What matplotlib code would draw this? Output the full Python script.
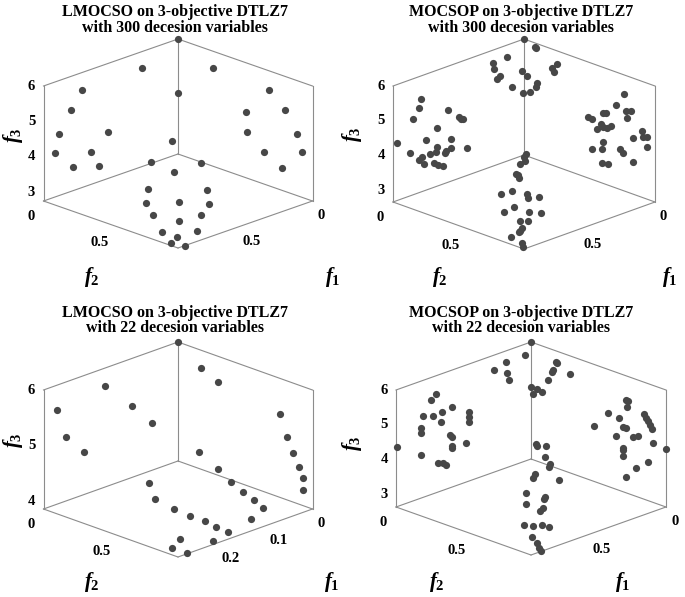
import numpy as np
import matplotlib
matplotlib.use("Agg")
import matplotlib.pyplot as plt
from mpl_toolkits.mplot3d import proj3d

plt.rcParams['font.family'] = 'Liberation Serif'
plt.rcParams['font.weight'] = 'bold'
plt.rcParams['mathtext.fontset'] = 'custom'
plt.rcParams['mathtext.rm'] = 'Liberation Serif:bold'
plt.rcParams['mathtext.it'] = 'Liberation Serif:italic:bold'
plt.rcParams['mathtext.bf'] = 'Liberation Serif:bold'

# ---- LMOCSO, 300 decision variables (top left) ----
lm300_f1 = [0.0, 0.245, 0.008, 0.234,
            0.641, 0.721, 0.814, 0.874, 0.873, 0.797, 0.817, 0.702,
            0.022, 0.005, 0.190, 0.238, 0.016, 0.044, 0.217, 0.180,
            0.662, 0.775, 0.611, 0.718, 0.842, 0.644, 0.877, 0.762, 0.666,
            0.877, 0.715, 0.801, 0.882, 0.762, 0.842, 0.874, 0.832]
lm300_f2 = [0.0, 0.006, 0.244, 0.236,
            0.0, 0.005, 0.017, 0.053, 0.172, 0.212, 0.286, 0.236,
            0.633, 0.721, 0.643, 0.702, 0.815, 0.872, 0.795, 0.874,
            0.624, 0.594, 0.765, 0.692, 0.639, 0.840, 0.661, 0.769, 0.876,
            0.708, 0.869, 0.808, 0.773, 0.887, 0.833, 0.825, 0.879]
lm300_f3 = [6.0, 5.56, 5.56, 5.18,
            5.52, 5.07, 4.54, 4.14, 3.94, 4.29, 4.05, 4.77,
            5.53, 5.07, 5.18, 4.77, 4.54, 4.17, 4.30, 3.92,
            5.02, 4.56, 4.52, 4.34, 3.94, 3.93, 3.63, 3.67, 3.61,
            3.37, 3.37, 3.24, 2.99, 3.02, 2.88, 2.74, 2.68]

# ---- MOCSOP, 300 decision variables (top right) ----
mo300_f1 = [0.0, 0.0, 0.0, 0.134, 0.206, 0.227, 0.241, 0.262, 0.148, 0.150,
            0.247, 0.237, 0.213, 0.150, 0.168, 0.036, 0.0, 0.042,
            0.848, 0.676, 0.704, 0.748, 0.649, 0.722, 0.646, 0.648, 0.643,
            0.779, 0.724, 0.848, 0.834, 0.849, 0.850, 0.809, 0.775, 0.790,
            0.767, 0.775, 0.826, 0.823, 0.815, 0.749, 0.716,
            0.0, 0.065, 0.143, 0.132, 0.037, 0.016, 0.051, 0.223, 0.212,
            0.186, 0.182, 0.171, 0.147, 0.216, 0.224, 0.083, 0.022, 0.031,
            0.016, 0.041, 0.296, 0.252, 0.170, 0.167, 0.289, 0.267, 0.145,
            0.659, 0.669, 0.699, 0.676, 0.733, 0.728, 0.729, 0.823, 0.778,
            0.735, 0.740, 0.703, 0.847, 0.806, 0.766, 0.729, 0.814, 0.787,
            0.823, 0.834, 0.841, 0.878, 0.853, 0.858]
mo300_f2 = [0.0, 0.069, 0.079, 0.025, 0.005, 0.030, 0.083, 0.085, 0.133, 0.171,
            0.167, 0.232, 0.251, 0.234, 0.246, 0.218, 0.216, 0.241,
            0.012, 0.0, 0.014, 0.018, 0.152, 0.149, 0.221, 0.234, 0.244,
            0.135, 0.245, 0.099, 0.162, 0.159, 0.195, 0.192, 0.202, 0.212,
            0.255, 0.258, 0.237, 0.257, 0.281, 0.270, 0.340,
            0.656, 0.669, 0.664, 0.669, 0.707, 0.717, 0.730, 0.645, 0.657,
            0.690, 0.703, 0.714, 0.716, 0.697, 0.744, 0.796, 0.795, 0.814,
            0.821, 0.850, 0.741, 0.762, 0.800, 0.815, 0.799, 0.816, 0.863,
            0.670, 0.671, 0.673, 0.682, 0.678, 0.687, 0.697, 0.670, 0.701,
            0.757, 0.768, 0.801, 0.718, 0.741, 0.801, 0.840, 0.788, 0.815,
            0.807, 0.808, 0.808, 0.791, 0.838, 0.849]
mo300_f3 = [6.0, 5.88, 5.86, 5.72, 5.63, 5.55, 5.43, 5.39, 5.51, 5.44,
            5.28, 5.18, 5.19, 5.33, 5.28, 5.56, 5.63, 5.50,
            4.36, 5.33, 5.15, 4.90, 5.21, 4.81, 5.11, 5.07, 5.08,
            4.53, 4.63, 4.21, 4.17, 4.10, 4.03, 4.26, 4.43, 4.33,
            4.38, 4.33, 4.09, 4.07, 4.07, 4.45, 4.51,
            5.44, 5.25, 5.15, 5.14, 5.09, 5.08, 4.94, 5.11, 5.06,
            4.93, 4.86, 4.82, 4.85, 4.83, 4.56, 4.52, 4.63, 4.51,
            4.50, 4.30, 4.45, 4.42, 4.35, 4.27, 4.15, 4.09, 4.05,
            4.78, 4.72, 4.55, 4.62, 4.33, 4.31, 4.25, 3.88, 3.96,
            3.88, 3.80, 3.82, 3.49, 3.58, 3.47, 3.46, 3.28, 3.28,
            3.13, 3.06, 3.02, 2.91, 2.79, 2.70]

# ---- LMOCSO, 22 decision variables (bottom left) ----
lm22_f1 = [0.0, 0.004, 0.0, 0.156, 0.253, 0.148, 0.143, 0.277, 0.273,
           0.001, 0.005, 0.006, 0.007, 0.007, 0.017,
           0.164, 0.144, 0.132, 0.119, 0.106, 0.097, 0.125,
           0.271, 0.272, 0.247, 0.225, 0.204, 0.190, 0.173, 0.204, 0.259,
           0.278, 0.257]
lm22_f2 = [0.0, 0.163, 0.262, 0.014, 0.001, 0.161, 0.278, 0.135, 0.240,
           0.670, 0.730, 0.774, 0.811, 0.842, 0.869,
           0.655, 0.716, 0.761, 0.798, 0.830, 0.859, 0.869,
           0.660, 0.704, 0.751, 0.785, 0.817, 0.843, 0.870, 0.871, 0.824,
           0.836, 0.865]
lm22_f3 = [6.0, 5.71, 5.54, 5.70, 5.56, 5.46, 5.26, 5.28, 5.10,
           5.36, 5.03, 4.78, 4.57, 4.40, 4.24,
           5.16, 4.86, 4.63, 4.45, 4.30, 4.15, 4.05,
           4.94, 4.70, 4.49, 4.33, 4.20, 4.08, 3.96, 3.90, 4.06,
           3.96, 3.84]

# ---- MOCSOP, 22 decision variables (bottom right) ----
mo22_f1 = [0.0, 0.075, 0.165, 0.237, 0.209, 0.233, 0.005, 0.008, 0.049, 0.064,
           0.108, 0.013, 0.195, 0.183, 0.219, 0.180,
           0.855, 0.827, 0.765, 0.752, 0.714, 0.656, 0.630, 0.695, 0.695,
           0.666, 0.633, 0.712, 0.714, 0.738, 0.744, 0.814, 0.802, 0.803,
           0.702, 0.610, 0.623, 0.636,
           0.040, 0.033, 0.054, 0.153, 0.117, 0.001, 0.002, 0.001, 0.005,
           0.009, 0.248, 0.127, 0.117, 0.113, 0.085, 0.182, 0.041, 0.187,
           0.191, 0.204, 0.0, 0.114, 0.182, 0.250,
           0.619, 0.620, 0.591, 0.616, 0.616, 0.625, 0.618, 0.683, 0.697,
           0.751, 0.773, 0.697, 0.705, 0.728, 0.742, 0.820, 0.795, 0.765,
           0.745, 0.821, 0.816, 0.819, 0.819]
mo22_f2 = [0.0, 0.037, 0.004, 0.003, 0.054, 0.093, 0.164, 0.175, 0.191, 0.196,
           0.218, 0.261, 0.193, 0.220, 0.230, 0.252,
           0.0, 0.126, 0.065, 0.051, 0.028, 0.017, 0.023, 0.069, 0.120,
           0.101, 0.128, 0.196, 0.213, 0.237, 0.239, 0.224, 0.244, 0.262,
           0.288, 0.217, 0.230, 0.243,
           0.645, 0.652, 0.667, 0.645, 0.680, 0.721, 0.734, 0.748, 0.763,
           0.778, 0.651, 0.711, 0.723, 0.761, 0.768, 0.723, 0.820, 0.771,
           0.775, 0.792, 0.861, 0.862, 0.851, 0.856,
           0.651, 0.657, 0.687, 0.705, 0.737, 0.739, 0.798, 0.708, 0.712,
           0.719, 0.741, 0.786, 0.788, 0.802, 0.799, 0.777, 0.806, 0.833,
           0.860, 0.826, 0.853, 0.872, 0.883]
mo22_f3 = [6.0, 5.81, 5.70, 5.58, 5.54, 5.43, 5.70, 5.68, 5.58, 5.55,
           5.43, 5.52, 5.32, 5.30, 5.22, 5.25,
           4.34, 4.28, 4.72, 4.82, 5.07, 5.41, 5.54, 5.10, 5.02,
           5.21, 5.34, 4.78, 4.75, 4.57, 4.54, 4.18, 4.21, 4.17,
           4.68, 5.31, 5.22, 5.12,
           5.43, 5.40, 5.28, 5.23, 5.10, 5.08, 5.00, 4.93, 4.84,
           4.75, 5.03, 4.91, 4.87, 4.66, 4.67, 4.75, 4.47, 4.48,
           4.45, 4.33, 4.31, 4.11, 4.04, 3.90,
           5.11, 5.07, 5.06, 4.82, 4.66, 4.59, 4.31, 4.44, 4.34,
           4.01, 3.76, 3.93, 3.88, 3.68, 3.62, 3.30, 3.29, 3.30,
           3.27, 3.03, 2.91, 2.79, 2.73]

titles = [("LMOCSO on 3-objective DTLZ7", "with 300 decesion variables"),
          ("MOCSOP on 3-objective DTLZ7", "with 300 decesion variables"),
          ("LMOCSO on 3-objective DTLZ7", "with 22 decesion variables"),
          ("MOCSOP on 3-objective DTLZ7", "with 22 decesion variables")]

FW, FH = 685, 597
EDGE = '#8c8c8c'
DOT = '#474747'
TICK_FS = 10.5

fig = plt.figure(figsize=(FW / 100, FH / 100), dpi=100)


def px(x, y):
    return x / FW, 1 - y / FH


def label3d(ax, M, x, y, z, s, **kw):
    # put a flat text at the projected position of a 3-D point
    xs, ys, _ = proj3d.proj_transform(x, y, z, M)
    ax.text2D(xs, ys, s, transform=ax.transData, fontsize=TICK_FS,
              fontweight='bold', **kw)


def draw_panel(f1, f2, f3, xmax, ymax, zlim, xt, yt, zt, cx, cy, W, D, V):
    # MATLAB-like orthographic view from the (+f1, +f2) corner
    elev = np.degrees(np.arcsin(D / W))
    c = V * np.sqrt(2) / (W * np.cos(np.radians(elev)))
    A = 1.8294640721620434 * 25 / 24 / np.sqrt(2 + c ** 2)
    S = W * 1.85 / (np.sqrt(2) * A)
    off = S * 0.095 / 0.185
    ax = fig.add_axes([(cx - off) / FW, (FH - cy - off) / FH, S / FW, S / FH],
                      projection='3d', proj_type='ortho', computed_zorder=False)
    ax.set_box_aspect((1, 1, c))
    ax.view_init(elev=elev, azim=45)
    ax.set_xlim(0, xmax)
    ax.set_ylim(0, ymax)
    ax.set_zlim(*zlim)
    ax.set_xticks([])
    ax.set_yticks([])
    ax.set_zticks([])
    ax.set_axis_off()

    z0, z1 = zlim
    X, Y = xmax, ymax
    edges = [((0, 0, z0), (0, 0, z1)),
             ((0, 0, z0), (X, 0, z0)), ((0, 0, z0), (0, Y, z0)),
             ((0, 0, z1), (X, 0, z1)), ((0, 0, z1), (0, Y, z1)),
             ((X, 0, z0), (X, 0, z1)), ((0, Y, z0), (0, Y, z1)),
             ((X, 0, z0), (X, Y, z0)), ((0, Y, z0), (X, Y, z0))]
    for p, q in edges:
        ax.plot([p[0], q[0]], [p[1], q[1]], [p[2], q[2]], color=EDGE, lw=0.8)

    ax.plot(f1, f2, f3, 'o', ms=5.2, color=DOT, mec='none')

    M = ax.get_proj()
    zr = z1 - z0
    k = 12 / W
    for t in zt:
        label3d(ax, M, X * (1 + k), -Y * k, t, f'{t:g}', ha='center', va='center')
    kx, kz = 9 / (W / 2), 6 / V
    for t in yt:
        label3d(ax, M, X * (1 + kx), t, z0 - zr * kz, f'{t:g}', ha='right', va='top')
    ky, kz = 5 / (W / 2), 6.5 / V
    for t in xt:
        label3d(ax, M, t, Y * (1 + ky), z0 - zr * kz, f'{t:g}', ha='left', va='top')
    return ax


draw_panel(lm300_f1, lm300_f2, lm300_f3, 0.9, 0.9, (2.76, 6.0),
           [0, 0.5], [0, 0.5], [3, 4, 5, 6], 178, 143.5, 269, 94, 115)
draw_panel(mo300_f1, mo300_f2, mo300_f3, 0.86, 0.86, (2.654, 6.0),
           [0, 0.5], [0, 0.5], [3, 4, 5, 6], 524, 144, 262, 94, 116)
draw_panel(lm22_f1, lm22_f2, lm22_f3, 0.28, 0.88, (3.856, 6.0),
           [0, 0.1, 0.2], [0, 0.5], [4, 5, 6], 178, 449.5, 269, 96, 119)
draw_panel(mo22_f1, mo22_f2, mo22_f3, 0.86, 0.86, (2.638, 6.0),
           [0, 0.5], [0, 0.5], [3, 4, 5, 6], 531, 448.5, 270, 96, 117)

# titles
title_pos = [(175, 12), (521, 12), (175, 313), (521, 313)]
for (l1, l2), (tx, ty) in zip(titles, title_pos):
    fig.text(*px(tx, ty), l1, ha='center', va='center', fontsize=11.5, fontweight='bold')
    fig.text(*px(tx, ty + 15.5), l2, ha='center', va='center', fontsize=11.5, fontweight='bold')

# axis labels
f3_pos = [(13, 135), (352, 134), (13, 440), (352, 443)]
f2_pos = [(92, 277), (440, 277), (92, 582), (437, 582)]
f1_pos = [(333, 277), (670, 277), (332, 582), (623, 582)]
for p in f3_pos:
    fig.text(*px(*p), '$f_3$', rotation=90, ha='center', va='center', fontsize=15)
for p in f2_pos:
    fig.text(*px(*p), '$f_2$', ha='center', va='center', fontsize=15)
for p in f1_pos:
    fig.text(*px(*p), '$f_1$', ha='center', va='center', fontsize=15)

fig.savefig('out.png', dpi=100)
